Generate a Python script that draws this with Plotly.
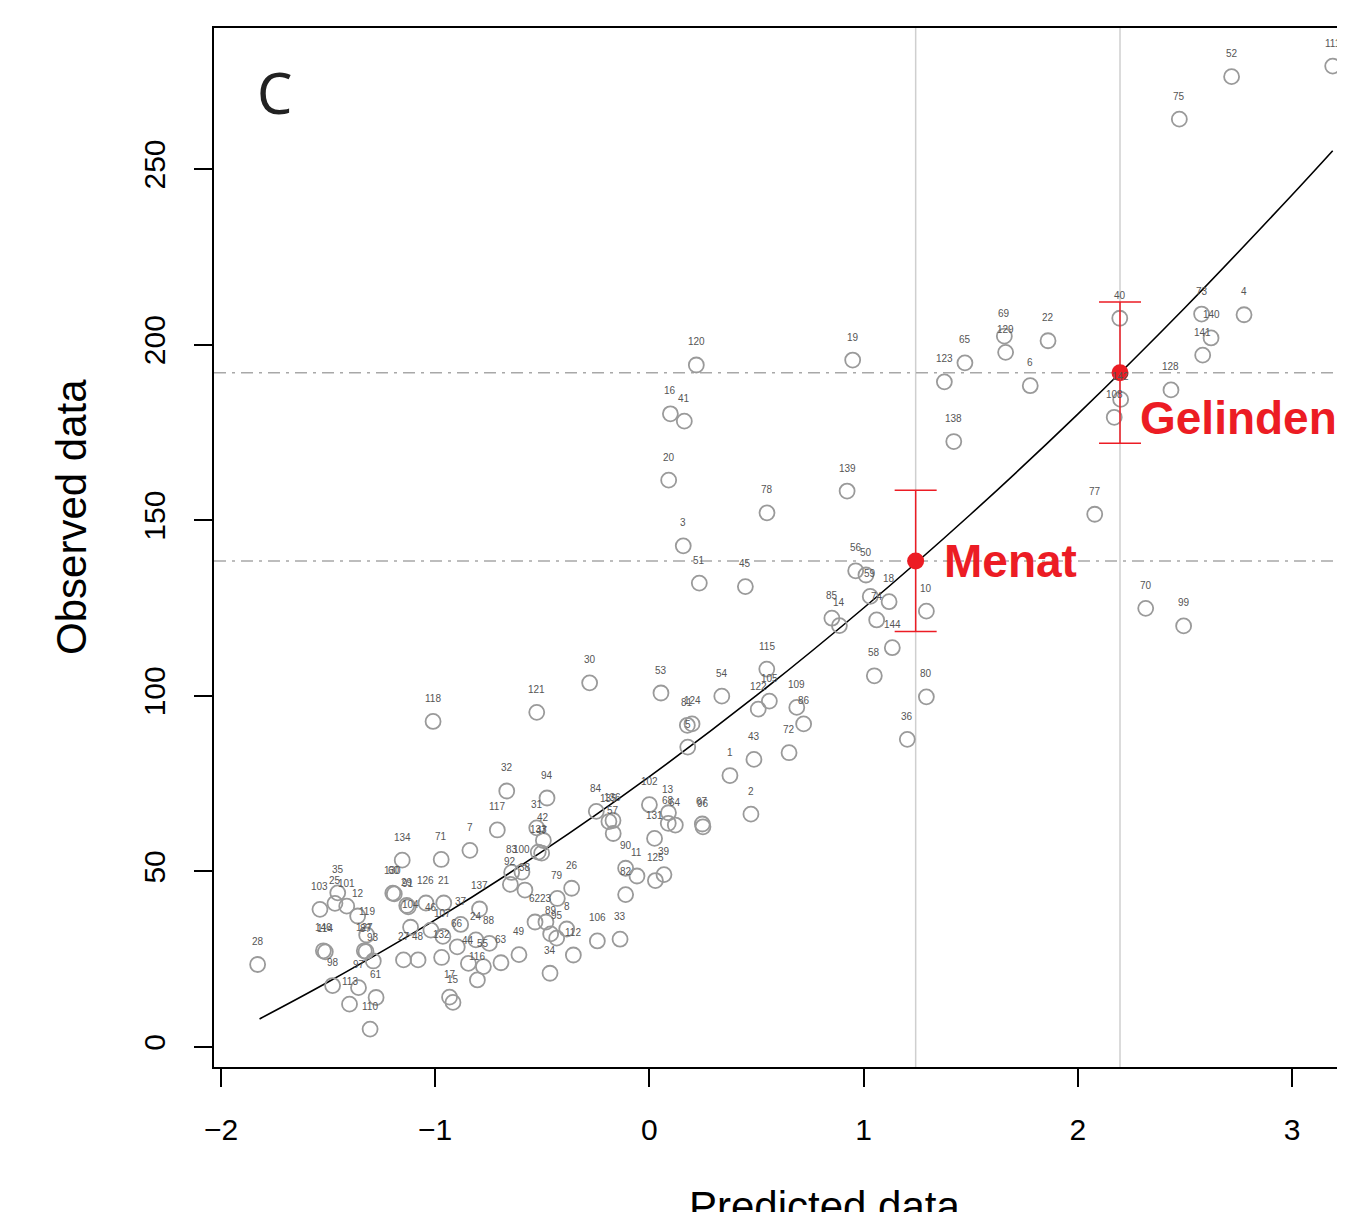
import plotly.graph_objects as go

# ---- observations: point labels, predicted (x) and observed (y) values ----
point_labels = ["111", "52", "75", "40", "73", "4", "140", "141", "108", "142",
    "128", "77", "70", "99", "19", "69", "129", "22", "65", "123",
    "6", "138", "139", "56", "50", "59", "18", "85", "14", "74",
    "144", "10", "58", "80", "36", "120", "16", "41", "20", "78",
    "3", "51", "45", "115", "53", "54", "105", "122", "109", "86",
    "81", "124", "5", "43", "72", "1", "2", "102", "13", "68",
    "64", "67", "96", "131", "84", "135", "136", "57", "90", "11",
    "125", "39", "82", "26", "30", "121", "118", "32", "94", "117",
    "31", "42", "133", "47", "7", "71", "134", "130", "60", "35",
    "25", "101", "103", "12", "29", "91", "126", "21", "119", "146",
    "114", "127", "87", "93", "28", "98", "97", "61", "113", "110",
    "104", "46", "107", "37", "66", "27", "48", "132", "24", "88",
    "44", "55", "63", "49", "116", "17", "15", "137", "83", "100",
    "92", "38", "79", "62", "23", "8", "89", "95", "34", "112",
    "106", "33"]

predicted = [3.190, 2.718, 2.474, 2.196, 2.578, 2.776, 2.622, 2.583, 2.170, 2.200,
    2.435, 2.079, 2.317, 2.494, 0.949, 1.657, 1.663, 1.861, 1.473, 1.377,
    1.778, 1.421, 0.923, 0.963, 1.011, 1.031, 1.119, 0.852, 0.887, 1.061,
    1.134, 1.293, 1.050, 1.293, 1.204, 0.219, 0.098, 0.163, 0.090, 0.549,
    0.158, 0.233, 0.448, 0.548, 0.054, 0.338, 0.560, 0.508, 0.688, 0.720,
    0.177, 0.199, 0.179, 0.488, 0.652, 0.376, 0.474, 0.000, 0.089, 0.088,
    0.121, 0.247, 0.250, 0.024, -0.248, -0.189, -0.170, -0.169, -0.111, -0.058,
    0.028, 0.068, -0.111, -0.363, -0.279, -0.526, -1.010, -0.666, -0.478, -0.710,
    -0.526, -0.495, -0.519, -0.503, -0.838, -0.972, -1.154, -1.198, -1.191, -1.455,
    -1.468, -1.413, -1.538, -1.362, -1.133, -1.126, -1.043, -0.960, -1.320, -1.522,
    -1.513, -1.331, -1.323, -1.289, -1.829, -1.479, -1.358, -1.276, -1.400, -1.304,
    -1.115, -1.020, -0.964, -0.881, -0.897, -1.148, -1.080, -0.970, -0.810, -0.747,
    -0.845, -0.775, -0.693, -0.609, -0.803, -0.933, -0.917, -0.793, -0.643, -0.595,
    -0.649, -0.581, -0.430, -0.534, -0.483, -0.386, -0.461, -0.433, -0.464, -0.355,
    -0.243, -0.137]

observed = [279.3, 276.3, 264.2, 207.5, 208.7, 208.5, 201.9, 197.0, 179.3, 184.4,
    187.1, 151.7, 124.9, 119.9, 195.6, 202.4, 197.8, 201.1, 194.8, 189.4,
    188.3, 172.4, 158.3, 135.6, 134.4, 128.3, 126.8, 122.1, 120.0, 121.6,
    113.7, 124.1, 105.7, 99.7, 87.6, 194.2, 180.3, 178.2, 161.4, 152.1,
    142.7, 132.1, 131.1, 107.6, 100.8, 99.9, 98.5, 96.2, 96.7, 92.0,
    91.6, 92.0, 85.4, 81.9, 83.8, 77.3, 66.3, 69.0, 66.7, 63.7,
    63.2, 63.5, 62.7, 59.4, 67.1, 64.2, 64.5, 60.8, 50.9, 48.7,
    47.4, 49.1, 43.4, 45.2, 103.7, 95.3, 92.7, 72.9, 70.9, 61.8,
    62.4, 58.8, 55.5, 55.2, 56.0, 53.4, 53.2, 43.8, 43.6, 43.9,
    40.9, 40.1, 39.2, 37.3, 40.3, 39.9, 41.0, 41.0, 31.9, 27.4,
    27.1, 27.4, 27.2, 24.5, 23.5, 17.5, 16.9, 14.1, 12.2, 5.1,
    34.1, 33.3, 31.5, 34.9, 28.5, 24.8, 24.8, 25.5, 30.5, 29.5,
    23.8, 22.9, 24.0, 26.3, 19.1, 14.2, 12.7, 39.3, 49.7, 49.8,
    46.3, 44.7, 42.3, 35.6, 35.6, 33.6, 32.2, 31.0, 21.0, 26.2,
    30.2, 30.7]

# ---- fitted curve ----
curve_x = [-1.82, -1.5, -1.0, -0.5, 0.0, 0.5, 1.0, 1.5, 2.0, 2.5, 3.0, 3.19]
curve_y = [8.0, 18.5, 36.2, 55.7, 77.0, 100.1, 125.0, 151.7, 180.2, 210.5, 242.6, 255.2]

# ---- highlighted sites ----
site_names = ["Menat", "Gelinden"]
site_x = [1.243, 2.197]
site_y = [138.4, 192.0]
site_err = [20.1, 20.1]
site_label_x = [1.368, 2.283]
site_label_y = [138.4, 179.1]

x_ticks = [-2, -1, 0, 1, 2, 3]
y_ticks = [0, 50, 100, 150, 200, 250]

RED = "#ec1c24"
FONT = "Liberation Sans, Arial, Helvetica, sans-serif"

fig = go.Figure()

# guide lines through the sites
for sx, sy in zip(site_x, site_y):
    fig.add_shape(type="line", xref="x", yref="paper", x0=sx, x1=sx, y0=0, y1=1,
                  line=dict(color="#cfcfcf", width=1.5), layer="below")
    fig.add_shape(type="line", xref="paper", yref="y", x0=0, x1=1, y0=sy, y1=sy,
                  line=dict(color="#a8a8a8", width=1.5, dash="12px,6px,3px,6px"), layer="below")

fig.add_trace(go.Scatter(x=curve_x, y=curve_y, mode="lines", line_shape="spline",
                         line=dict(color="black", width=1.6), hoverinfo="skip"))

fig.add_trace(go.Scatter(x=predicted, y=observed, mode="markers",
                         marker=dict(symbol="circle-open", size=15, color="#9a9a9a",
                                     line=dict(width=1.8, color="#9a9a9a")),
                         text=point_labels))

fig.add_trace(go.Scatter(x=site_x, y=site_y, mode="markers",
                         marker=dict(symbol="circle", size=17, color=RED),
                         error_y=dict(type="data", array=site_err, visible=True,
                                      color=RED, thickness=1.5, width=21)))

annotations = []
for lab, px, py in zip(point_labels, predicted, observed):
    annotations.append(dict(x=px, y=py, xref="x", yref="y", text=lab, showarrow=False,
                            yshift=23, xanchor="center", yanchor="middle",
                            font=dict(family=FONT, size=10, color="#555555")))

for name, lx, ly in zip(site_names, site_label_x, site_label_y):
    annotations.append(dict(x=lx, y=ly, xref="x", yref="y", text="<b>%s</b>" % name,
                            showarrow=False, xanchor="left", yanchor="middle",
                            font=dict(family=FONT, size=46, color=RED)))

annotations.append(dict(x=0.0539, y=0.9384, xref="paper", yref="paper", text="C",
                        showarrow=False, xanchor="center", yanchor="middle",
                        font=dict(family="Noto Sans, sans-serif", size=56, color="#222222")))
annotations.append(dict(x=0, y=0.5294, xref="paper", yref="paper", text="Observed data",
                        showarrow=False, xanchor="center", yanchor="middle", xshift=-142,
                        textangle=-90, font=dict(family=FONT, size=42, color="black")))
annotations.append(dict(x=0.540, y=0, xref="paper", yref="paper", text="Predicted data",
                        showarrow=False, xanchor="center", yanchor="top", yshift=-114,
                        font=dict(family=FONT, size=42, color="black")))

# the page body has an 8px margin: plot area is placed so it lands at 214..1345 x 28..1067
fig.update_layout(
    width=1337, height=1204,
    margin=dict(l=206, r=0, t=20, b=145, pad=0),
    paper_bgcolor="white", plot_bgcolor="white",
    showlegend=False,
    annotations=annotations,
    xaxis=dict(range=[-2.0327, 3.2474], showgrid=False, zeroline=False,
               showline=True, linecolor="black", linewidth=1.5, mirror=True,
               ticks="outside", ticklen=18, tickwidth=1.5, tickcolor="black",
               tickvals=x_ticks, ticktext=[("\u2212%d" % -v) if v < 0 else str(v) for v in x_ticks],
               tickfont=dict(family=FONT, size=30, color="black"), ticklabelstandoff=17),
    yaxis=dict(range=[-5.69, 290.15], showgrid=False, zeroline=False,
               showline=True, linecolor="black", linewidth=1.5,
               ticks="outside", ticklen=18, tickwidth=1.5, tickcolor="black",
               tickvals=y_ticks, tickangle=-90,
               tickfont=dict(family=FONT, size=30, color="black"), ticklabelstandoff=17),
)

fig.write_html("out.html")
